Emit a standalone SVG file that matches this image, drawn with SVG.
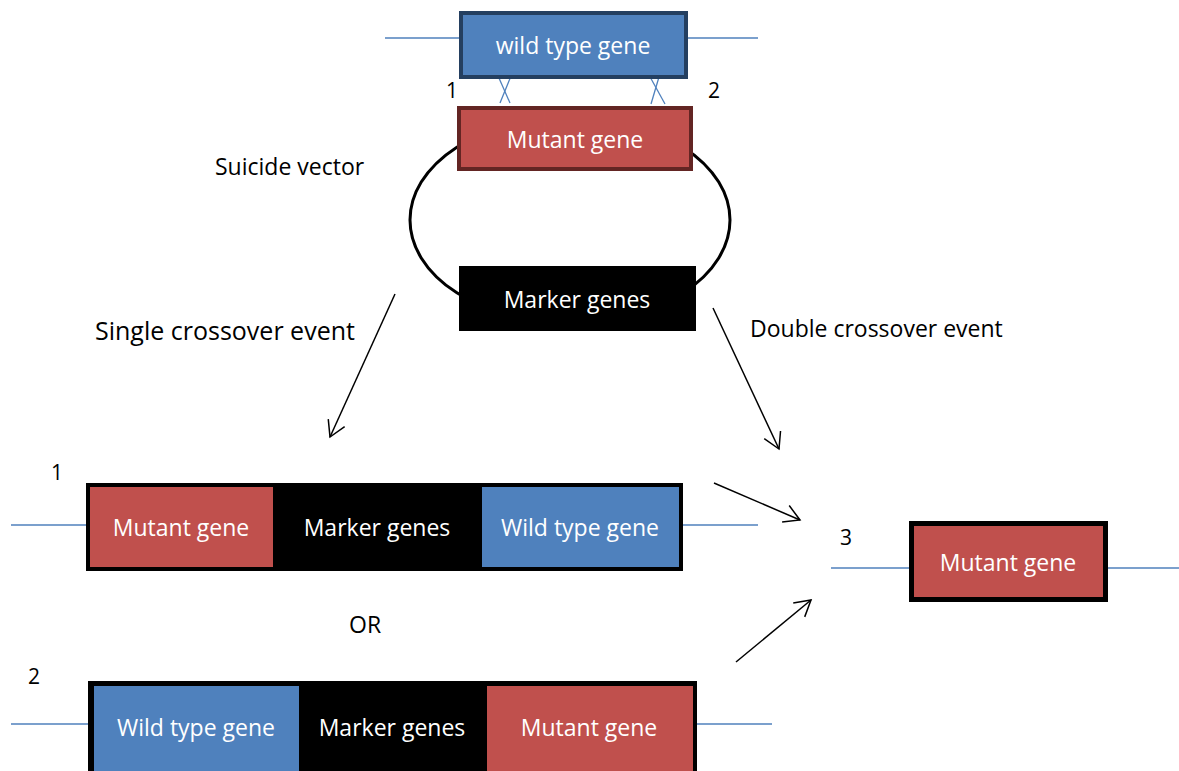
<svg xmlns="http://www.w3.org/2000/svg" width="1179" height="771" viewBox="0 0 1179 771">
<style>
text{font-family:"Open Sans","Liberation Sans",sans-serif;}
.lbl{fill:#fff;font-size:23px;text-anchor:middle;}
.cap{fill:#000;}
.num{fill:#000;font-size:21px;}
.dna{stroke:#4F81BD;stroke-width:1.3;fill:none;}
.arr{stroke:#000;stroke-width:1.5;fill:none;marker-end:url(#ah);}
.red{fill:#C0504D;}
.blue{fill:#4F81BD;}
</style>
<defs>
<marker id="ah" markerUnits="userSpaceOnUse" markerWidth="20" markerHeight="20" refX="15.6" refY="9" orient="auto" overflow="visible">
<path d="M0,0 L15.6,9 L0,18" fill="none" stroke="#000" stroke-width="1.5"/>
</marker>
</defs>
<rect width="1179" height="771" fill="#fff"/>
<g id="connectors">
<line class="dna" x1="385" y1="38" x2="461" y2="38"/>
<line class="dna" x1="686" y1="38" x2="758" y2="38"/>
<line class="dna" x1="495" y1="69" x2="510" y2="103"/>
<line class="dna" x1="511" y1="76" x2="500" y2="103"/>
<line class="dna" x1="649" y1="75" x2="665" y2="104"/>
<line class="dna" x1="659" y1="77" x2="651" y2="104"/>
<line class="dna" x1="11" y1="525" x2="86" y2="525"/>
<line class="dna" x1="683" y1="525" x2="758" y2="525"/>
<line class="dna" x1="11" y1="724" x2="88" y2="724"/>
<line class="dna" x1="697" y1="724" x2="772" y2="724"/>
<line class="dna" x1="831" y1="568" x2="909" y2="568"/>
<line class="dna" x1="1108" y1="568" x2="1179" y2="568"/>
<line class="arr" x1="395" y1="294" x2="330" y2="437"/>
<line class="arr" x1="713" y1="308" x2="779" y2="449"/>
<line class="arr" x1="714" y1="483" x2="800" y2="520"/>
<line class="arr" x1="736" y1="662" x2="811" y2="600"/>
</g>
<g id="vector">
<ellipse cx="570" cy="220" rx="160" ry="103" fill="none" stroke="#000" stroke-width="3"/>
</g>
<g id="wildtype-top">
<rect class="blue" x="461" y="13" width="225" height="64" stroke="#243F60" stroke-width="4"/>
<text class="lbl" x="573" y="54">wild type gene</text>
</g>
<g id="mutant-top">
<rect class="red" x="459" y="108" width="232" height="61" stroke="#632523" stroke-width="4"/>
<text class="lbl" x="575" y="148">Mutant gene</text>
</g>
<g id="marker-top">
<rect x="459" y="266" width="237" height="65" fill="#000"/>
<text class="lbl" x="577" y="308">Marker genes</text>
</g>
<g id="product1">
<rect x="86" y="483" width="597" height="88" fill="#000"/>
<rect class="red" x="90" y="487" width="183" height="80"/>
<rect class="blue" x="482" y="487" width="197" height="80"/>
<text class="lbl" x="181" y="536">Mutant gene</text>
<text class="lbl" x="377" y="536">Marker genes</text>
<text class="lbl" x="580" y="536">Wild type gene</text>
</g>
<g id="product2">
<rect x="88" y="681" width="609" height="100" fill="#000"/>
<rect class="blue" x="94" y="686" width="205" height="95"/>
<rect class="red" x="487" y="686" width="206" height="95"/>
<text class="lbl" x="196" y="736">Wild type gene</text>
<text class="lbl" x="392" y="736">Marker genes</text>
<text class="lbl" x="589" y="736">Mutant gene</text>
</g>
<g id="product3">
<rect x="909" y="521" width="199" height="81" fill="#000"/>
<rect class="red" x="914" y="526" width="189" height="71"/>
<text class="lbl" x="1008" y="571">Mutant gene</text>
</g>
<g id="labels">
<text class="num" x="446" y="98">1</text>
<text class="num" x="708" y="98">2</text>
<text class="cap" x="215" y="175" font-size="23">Suicide vector</text>
<text class="cap" x="95" y="340" font-size="25">Single crossover event</text>
<text class="cap" x="750" y="337" font-size="23">Double crossover event</text>
<text class="num" x="51" y="480">1</text>
<text class="num" x="28" y="684">2</text>
<text class="num" x="840" y="545">3</text>
<text class="cap" x="349" y="633" font-size="23">OR</text>
</g>
</svg>
